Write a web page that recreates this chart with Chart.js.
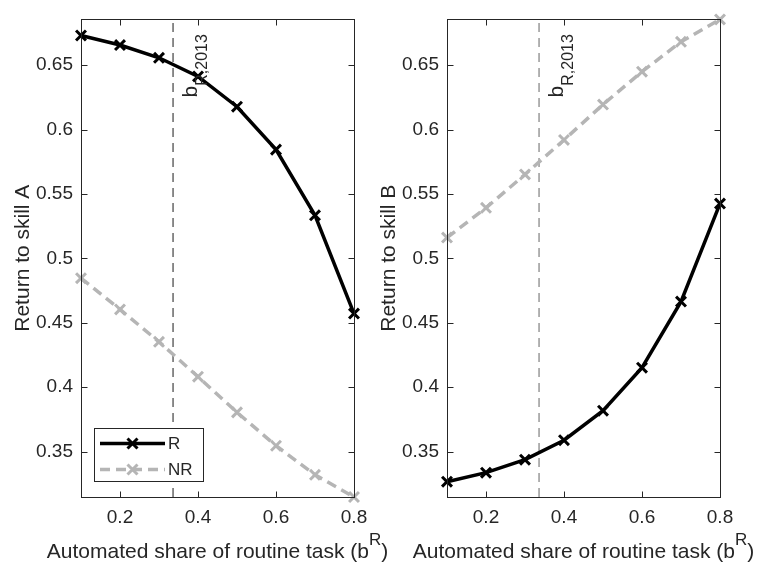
<!DOCTYPE html>
<html>
<head>
<meta charset="utf-8">
<script src="https://cdn.jsdelivr.net/npm/chart.js@4/dist/chart.umd.min.js"></script>
<style>
  body { margin: 0; background: #fff; width: 757px; height: 572px; overflow: hidden; position: relative; }
  canvas { position: absolute; top: 0; }
  #panelA { left: 0; }
  #panelB { left: 366px; }
</style>
</head>
<body>
<canvas id="panelA" width="400" height="572"></canvas>
<canvas id="panelB" width="391" height="572"></canvas>
<script>
// automated share of routine task (b^R)
var bShare = [0.1, 0.2, 0.3, 0.4, 0.5, 0.6, 0.7, 0.8];

// return to skill A
var skillA_R  = [0.673, 0.6656, 0.6557, 0.6412, 0.6177, 0.5844, 0.5334, 0.4571];
var skillA_NR = [0.4846, 0.4603, 0.4352, 0.4081, 0.3804, 0.3545, 0.3319, 0.3147];

// return to skill B
var skillB_R  = [0.3266, 0.3336, 0.3437, 0.3588, 0.3817, 0.4151, 0.4664, 0.5425];
var skillB_NR = [0.5161, 0.5392, 0.5651, 0.5919, 0.6194, 0.6449, 0.6681, 0.6855];

// b_R,2013 marker line
var bR2013 = 0.336;

// ticks
var xTicks = [0.2, 0.4, 0.6, 0.8];
var yTicks = [0.35, 0.4, 0.45, 0.5, 0.55, 0.6, 0.65];
var xRange = [0.1, 0.8];
var yRange = [0.3147, 0.6855];

var FONT = "'Liberation Sans', Arial, Helvetica, sans-serif";
var AXIS = '#262626';
var GRAY = '#b5b5b5';

function points(ys) {
  return bShare.map(function (x, i) { return { x: x, y: ys[i] }; });
}

// texto con sub/superindices
function partsWidth(ctx, parts) {
  var w = 0;
  parts.forEach(function (p) {
    ctx.font = p.size + 'px ' + FONT;
    w += ctx.measureText(p.t).width;
  });
  return w;
}
function drawParts(ctx, parts, x, y) {
  parts.forEach(function (p) {
    ctx.font = p.size + 'px ' + FONT;
    ctx.fillText(p.t, x, y + (p.dy || 0));
    x += ctx.measureText(p.t).width;
  });
}

function xMark(ctx, cx, cy, h) {
  ctx.beginPath();
  ctx.moveTo(cx - h, cy - h); ctx.lineTo(cx + h, cy + h);
  ctx.moveTo(cx - h, cy + h); ctx.lineTo(cx + h, cy - h);
  ctx.stroke();
}

var panelPlugin = {
  id: 'panel',
  afterDraw: function (chart, args, o) {
    var ctx = chart.ctx, a = chart.chartArea;
    var xs = chart.scales.x, ys = chart.scales.y;
    var L = Math.round(a.left) + 0.5, R = Math.round(a.right) + 0.5;
    var T = Math.round(a.top) + 0.5, B = Math.round(a.bottom) + 0.5;
    ctx.save();

    // caja y ticks hacia dentro
    ctx.strokeStyle = AXIS;
    ctx.lineWidth = 1;
    ctx.setLineDash([]);
    ctx.strokeRect(L, T, R - L, B - T);
    ctx.beginPath();
    xTicks.forEach(function (v) {
      var px = Math.round(xs.getPixelForValue(v)) + 0.5;
      ctx.moveTo(px, B); ctx.lineTo(px, B - 6);
      ctx.moveTo(px, T); ctx.lineTo(px, T + 6);
    });
    yTicks.forEach(function (v) {
      var py = Math.round(ys.getPixelForValue(v)) + 0.5;
      ctx.moveTo(L, py); ctx.lineTo(L + 6, py);
      ctx.moveTo(R, py); ctx.lineTo(R - 6, py);
    });
    ctx.stroke();

    ctx.fillStyle = AXIS;
    ctx.textBaseline = 'alphabetic';
    ctx.textAlign = 'left';

    // titulo eje y
    ctx.save();
    ctx.translate(a.left - 52, (a.top + a.bottom) / 2);
    ctx.rotate(-Math.PI / 2);
    ctx.font = '21px ' + FONT;
    ctx.textAlign = 'center';
    ctx.fillText(o.yLabel, 0, 0);
    ctx.restore();

    // titulo eje x con superindice
    var xt = [
      { t: 'Automated share of routine task (b', size: 21 },
      { t: 'R', size: 17, dy: -13 },
      { t: ')', size: 21 }
    ];
    var w = partsWidth(ctx, xt);
    drawParts(ctx, xt, (a.left + a.right) / 2 - w / 2, 558);

    // etiqueta b_R,2013 rotada
    ctx.save();
    ctx.translate(xs.getPixelForValue(0.4) - 1, a.top + 78);
    ctx.rotate(-Math.PI / 2);
    drawParts(ctx, [
      { t: 'b', size: 21 },
      { t: 'R,2013', size: 16, dy: 10 }
    ], 0, 0);
    ctx.restore();

    // leyenda
    if (o.legend) {
      ctx.fillStyle = '#fff';
      ctx.fillRect(94.5, 428.5, 109, 53);
      ctx.strokeStyle = AXIS;
      ctx.lineWidth = 1;
      ctx.strokeRect(94.5, 428.5, 109, 53);

      var rows = [
        { label: 'R', color: '#000', dash: [], y: 443.5 },
        { label: 'NR', color: GRAY, dash: [10, 6], y: 469.5 }
      ];
      rows.forEach(function (r) {
        ctx.strokeStyle = r.color;
        ctx.lineWidth = 3.5;
        ctx.setLineDash(r.dash);
        ctx.beginPath();
        ctx.moveTo(100, r.y); ctx.lineTo(165, r.y);
        ctx.stroke();
        ctx.setLineDash([]);
        ctx.lineWidth = 3;
        xMark(ctx, 132.5, r.y, 5);
        ctx.fillStyle = AXIS;
        ctx.font = '17px ' + FONT;
        ctx.textBaseline = 'middle';
        ctx.fillText(r.label, 168, r.y + 1);
      });
    }
    ctx.restore();
  }
};

function makePanel(id, seriesR, seriesNR, yLabel, showLegend, vlineColor, padRight) {
  var ctx = document.getElementById(id).getContext('2d');
  return new Chart(ctx, {
    type: 'line',
    data: {
      datasets: [{
        label: 'R',
        data: points(seriesR),
        borderColor: '#000',
        borderWidth: 3.5,
        pointStyle: 'crossRot',
        pointRadius: 7,
        pointBorderWidth: 3,
        pointBorderColor: '#000',
        tension: 0,
        clip: false,
        order: 1
      }, {
        label: 'NR',
        data: points(seriesNR),
        borderColor: GRAY,
        borderWidth: 3.5,
        borderDash: [10, 6],
        pointStyle: 'crossRot',
        pointRadius: 7,
        pointBorderWidth: 3,
        pointBorderColor: GRAY,
        tension: 0,
        clip: false,
        order: 2
      }, {
        label: 'b2013',
        data: [{ x: bR2013, y: yRange[0] }, { x: bR2013, y: yRange[1] }],
        borderColor: vlineColor,
        borderWidth: 1,
        borderDash: [9, 6],
        pointRadius: 0,
        order: 3
      }]
    },
    options: {
      responsive: false,
      animation: false,
      events: [],
      layout: { padding: { top: 6, right: padRight, left: 0, bottom: 0 } },
      plugins: {
        legend: { display: false },
        tooltip: { enabled: false },
        panel: { yLabel: yLabel, legend: showLegend }
      },
      scales: {
        x: {
          type: 'linear',
          min: xRange[0], max: xRange[1],
          afterBuildTicks: function (s) { s.ticks = xTicks.map(function (v) { return { value: v }; }); },
          afterFit: function (s) { s.height = 75; },
          grid: { display: false, drawTicks: false },
          border: { display: false },
          ticks: {
            font: { size: 19, family: FONT }, color: AXIS, padding: 9,
            maxRotation: 0, autoSkip: false,
            callback: function (v) { return String(v); }
          }
        },
        y: {
          min: yRange[0], max: yRange[1],
          afterBuildTicks: function (s) { s.ticks = yTicks.map(function (v) { return { value: v }; }); },
          afterFit: function (s) { s.width = 81; },
          grid: { display: false, drawTicks: false },
          border: { display: false },
          ticks: {
            font: { size: 19, family: FONT }, color: AXIS, padding: 8,
            autoSkip: false,
            callback: function (v) { return String(v); }
          }
        }
      }
    },
    plugins: [panelPlugin]
  });
}

makePanel('panelA', skillA_R, skillA_NR, 'Return to skill A', true, '#1a1a1a', 46);
makePanel('panelB', skillB_R, skillB_NR, 'Return to skill B', false, '#666666', 37);
</script>
</body>
</html>
